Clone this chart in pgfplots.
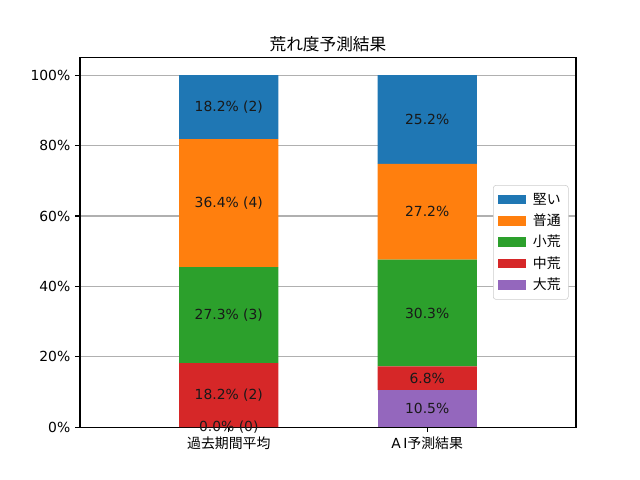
\documentclass[border=0pt]{standalone}
\usepackage{pgfplots}
\pgfplotsset{compat=1.18}
\usepackage{fontspec}
\setmainfont{DejaVu Sans}
\newfontfamily\jp{Noto Sans CJK JP}
\definecolor{tabblue}{HTML}{1F77B4}
\definecolor{taborange}{HTML}{FF7F0E}
\definecolor{tabgreen}{HTML}{2CA02C}
\definecolor{tabred}{HTML}{D62728}
\definecolor{tabpurple}{HTML}{9467BD}
\definecolor{gridgray}{HTML}{B0B0B0}
\definecolor{legendgray}{HTML}{CCCCCC}
\tikzset{barlbl/.style={font=\fontsize{10}{12}\selectfont, text=black!90}}
\begin{document}
\begin{tikzpicture}
\path[use as bounding box] (-57.6pt,-38.016pt) rectangle (403.2pt,307.584pt);
\begin{axis}[
  at={(0,0)}, anchor=south west,
  scale only axis, width=357.12pt, height=266.112pt,
  ybar stacked, bar width=0.5,
  clip=false,
  xmin=-0.75, xmax=1.75, ymin=0, ymax=105,
  xtick={0,1}, xticklabels={{\jp 過去期間平均},{A\,I\jp 予測結果}},
  ytick={0,20,40,60,80,100},
  yticklabel={\pgfmathprintnumber{\tick}\%},
  /pgf/number format/assume math mode=true,
  ymajorgrids, grid style={color=gridgray, line width=0.8pt},
  axis line style={line width=0.8pt},
  tick align=outside, tick pos=left, major tick length=3.5pt,
  tick style={black, line width=0.8pt},
  ticklabel style={font=\fontsize{10}{12}\selectfont},
  title={\jp 荒れ度予測結果}, title style={font=\fontsize{12}{14}\selectfont, yshift=-5.5pt},
  legend style={at={(0.985,0.5)}, anchor=east, draw=legendgray, fill=white,
    rounded corners=2pt, font=\fontsize{10}{12}\selectfont\jp,
    cells={anchor=west}, inner sep=3.5pt, row sep=1.5pt, column sep=3pt},
  legend image code/.code={\path[#1, draw=none, sharp corners] (0pt,-3.5pt) rectangle (20pt,3.5pt);},
  reverse legend,
]
\addplot[fill=tabpurple, draw=none] coordinates {(0,0) (1,10.5)};
\addlegendentry{大荒}
\addplot[fill=tabred, draw=none] coordinates {(0,18.18) (1,6.8)};
\addlegendentry{中荒}
\addplot[fill=tabgreen, draw=none] coordinates {(0,27.27) (1,30.3)};
\addlegendentry{小荒}
\addplot[fill=taborange, draw=none] coordinates {(0,36.36) (1,27.2)};
\addlegendentry{普通}
\addplot[fill=tabblue, draw=none] coordinates {(0,18.18) (1,25.2)};
\addlegendentry{堅い}
\end{axis}
\begin{axis}[
  at={(0,0)}, anchor=south west,
  scale only axis, width=357.12pt, height=266.112pt,
  hide axis, clip=false,
  xmin=-0.75, xmax=1.75, ymin=0, ymax=105,
]
\node[barlbl] at (axis cs:0,0) {0.0\% (0)};
\node[barlbl] at (axis cs:0,9.09) {18.2\% (2)};
\node[barlbl] at (axis cs:0,31.82) {27.3\% (3)};
\node[barlbl] at (axis cs:0,63.63) {36.4\% (4)};
\node[barlbl] at (axis cs:0,90.90) {18.2\% (2)};
\node[barlbl] at (axis cs:1,5.25) {10.5\%};
\node[barlbl] at (axis cs:1,13.9) {6.8\%};
\node[barlbl] at (axis cs:1,32.45) {30.3\%};
\node[barlbl] at (axis cs:1,61.2) {27.2\%};
\node[barlbl] at (axis cs:1,87.4) {25.2\%};
\end{axis}
\end{tikzpicture}
\end{document}
